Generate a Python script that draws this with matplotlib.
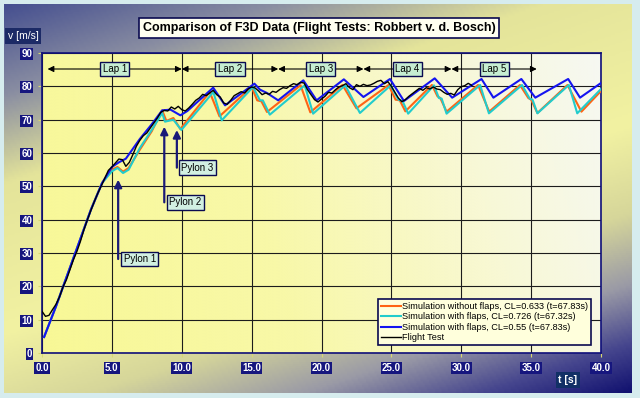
import numpy as np
import matplotlib.pyplot as plt
from matplotlib.colors import LinearSegmentedColormap

# ---- data ----
t_flight = [0.0, 0.25, 0.5, 0.75, 1.0, 1.25, 1.5, 1.75, 2.0, 2.25, 2.5, 2.75,
            3.0, 3.25, 3.5, 3.75, 4.0, 4.25, 4.5, 4.75, 5.0, 5.25, 5.5, 5.75,
            6.0, 6.25, 6.5, 6.75, 7.0, 7.25, 7.5, 7.75, 8.0, 8.25, 8.5, 8.75,
            9.0, 9.25, 9.5, 9.75, 10.0, 10.25, 10.5, 10.75, 11.0, 11.25, 11.5, 11.75,
            12.0, 12.25, 12.5, 12.75, 13.0, 13.25, 13.5, 13.75, 14.0, 14.25, 14.5, 14.75,
            15.0, 15.25, 15.5, 15.75, 16.0, 16.25, 16.5, 16.75, 17.0, 17.25, 17.5, 17.75,
            18.0, 18.25, 18.5, 18.75, 19.0, 19.25, 19.5, 19.75, 20.0, 20.25, 20.5, 20.75,
            21.0, 21.25, 21.5, 21.75, 22.0, 22.25, 22.5, 22.75, 23.0, 23.25, 23.5, 23.75,
            24.0, 24.25, 24.5, 24.75, 25.0, 25.25, 25.5, 25.75, 26.0, 26.25, 26.5, 26.75,
            27.0, 27.25, 27.5, 27.75, 28.0, 28.25, 28.5, 28.75, 29.0, 29.25, 29.5, 29.75,
            30.0, 30.25, 30.5, 30.75]
v_flight = [12.5, 11.0, 11.3, 13.0, 14.6, 16.8, 19.8, 22.0, 25.0, 28.0, 30.5, 33.5,
            37.0, 40.0, 42.8, 45.5, 48.0, 50.2, 52.5, 54.8, 55.8, 57.0, 58.2, 58.0,
            56.0, 57.2, 59.5, 62.0, 63.8, 65.2, 66.0, 67.5, 69.0, 70.5, 72.2, 72.8,
            72.6, 73.8, 73.2, 74.0, 73.0, 72.6, 73.5, 74.6, 75.8, 76.5, 77.6, 77.2,
            78.0, 78.8, 77.5, 76.8, 75.0, 74.6, 75.8, 77.2, 77.8, 78.4, 78.0, 79.2,
            79.8, 79.5, 78.6, 77.5, 78.0, 77.6, 78.5, 78.2, 79.0, 79.6, 79.4, 80.2,
            80.8, 80.5, 81.2, 81.0, 79.0, 77.5, 76.0, 75.3, 76.2, 77.0, 78.2, 78.0,
            79.0, 79.8, 80.2, 80.8, 79.6, 79.0, 80.5, 80.0, 80.6, 80.2, 80.4, 80.9,
            81.5, 81.8, 80.8, 81.4, 80.0, 78.2, 76.5, 75.4, 76.0, 77.0, 77.8, 78.6,
            79.4, 78.8, 79.6, 79.2, 79.8, 79.2, 79.0, 78.2, 77.6, 77.9, 77.4, 79.0,
            79.9, 80.2, 80.9, 80.3]

t_noflap = [0.15, 1.0, 2.4, 3.5, 4.3, 5.0, 5.4, 5.8, 6.2, 7.0, 7.85, 8.6, 8.9, 9.4, 9.9,
            12.0, 12.7, 15.0, 15.4, 15.7, 16.1, 18.5, 19.2, 21.5, 22.5, 24.8, 25.3, 25.6,
            26.0, 27.9, 28.3, 28.5, 28.95, 31.2, 32.0, 34.2, 34.8, 35.0, 35.45, 37.6, 38.6, 40.0]
v_noflap = [4.8, 14.0, 30.2, 43.0, 51.0, 55.0, 55.8, 54.4, 55.5, 61.0, 66.5, 72.8, 69.6, 70.5, 67.2,
            78.3, 71.0, 79.8, 75.8, 75.5, 72.3, 80.3, 72.2, 80.4, 73.4, 80.4, 76.0, 75.8,
            72.5, 80.4, 77.0, 76.5, 72.4, 80.4, 72.4, 80.4, 76.5, 76.0, 72.0, 80.4, 72.4, 78.6]

t_flap726 = [0.15, 1.0, 2.4, 3.5, 4.3, 5.0, 5.4, 5.8, 6.2, 7.0, 7.85, 8.6, 8.8, 9.4, 9.97,
             12.26, 12.86, 15.1, 15.6, 15.8, 16.3, 18.8, 19.4, 21.7, 22.75, 24.95, 25.5, 25.8,
             26.2, 28.05, 28.4, 28.6, 28.95, 31.35, 31.98, 34.35, 34.9, 35.1, 35.45, 37.7, 38.3, 40.0]
v_flap726 = [4.8, 14.0, 30.2, 43.0, 51.0, 54.5, 55.5, 54.0, 55.0, 61.5, 66.9, 72.0, 69.4, 70.0, 66.9,
             78.3, 69.8, 79.8, 75.8, 75.8, 71.5, 80.3, 71.8, 80.3, 72.0, 80.3, 76.0, 75.6,
             71.8, 80.3, 76.5, 76.3, 71.8, 80.4, 71.9, 80.4, 76.3, 76.0, 71.9, 80.4, 71.9, 79.2]

t_flap55 = [0.15, 1.0, 2.4, 3.5, 4.3, 5.0, 5.5, 6.0, 7.0, 7.85, 8.6, 9.2, 9.9, 10.4,
            12.25, 13.1, 15.2, 15.6, 16.1, 16.9, 18.7, 19.65, 21.6, 23.0, 24.9, 25.9,
            28.1, 29.35, 31.45, 32.3, 34.3, 35.3, 37.65, 38.5, 40.0]
v_flap55 = [4.8, 14.0, 30.2, 43.0, 51.0, 55.8, 57.2, 58.3, 64.2, 68.6, 72.8, 73.0, 71.3, 72.6,
            79.6, 74.3, 80.8, 79.0, 78.0, 75.8, 81.8, 75.8, 82.1, 76.8, 82.2, 75.6,
            82.4, 76.6, 82.2, 76.6, 82.2, 76.6, 82.2, 76.6, 81.0]

series_labels = ["Simulation without flaps, CL=0.633 (t=67.83s)",
                 "Simulation with flaps, CL=0.726 (t=67.32s)",
                 "Simulation with flaps, CL=0.55 (t=67.83s)",
                 "Flight Test"]

lap_names = ["Lap 1", "Lap 2", "Lap 3", "Lap 4", "Lap 5"]
lap_start = [0.4, 10.0, 16.9, 23.0, 29.3]
lap_end = [10.0, 16.9, 23.0, 29.3, 35.4]
lap_v = 85.2

pylon_names = ["Pylon 1", "Pylon 2", "Pylon 3"]
pylon_t = [5.45, 8.75, 9.65]
pylon_tip = [52.0, 67.9, 66.9]
pylon_base = [28.2, 45.2, 55.6]
pylon_text_t = [5.85, 9.1, 9.95]

x_ticks = [0, 5, 10, 15, 20, 25, 30, 35, 40]
y_ticks = [0, 10, 20, 30, 40, 50, 60, 70, 80, 90]

NARROW = ['Liberation Sans Narrow', 'Liberation Sans', 'DejaVu Sans']
SANS = ['Liberation Sans', 'DejaVu Sans']
NAVY = '#10107a'

W, H = 640, 398
fig = plt.figure(figsize=(6.4, 3.98), dpi=100)
fig.patch.set_facecolor('#d6ecee')

# panel gradient behind everything
bg = fig.add_axes([4 / W, 5 / H, 628 / W, 389 / H])
bg.set_axis_off()
yy, xx = np.mgrid[0:1:200j, 0:1:300j]
s = 0.35 * xx + 0.65 * yy
cmap_bg = LinearSegmentedColormap.from_list('bg', [
    (0.0, '#465090'), (0.15, '#8a8ea2'), (0.3, '#e4e49a'), (0.55, '#f2f2a2'),
    (0.7, '#d6d69a'), (0.82, '#9a9aa6'), (0.92, '#46468e'), (1.0, '#121270')])
bg.imshow(s, cmap=cmap_bg, aspect='auto', extent=[0, 1, 0, 1], origin='upper', vmin=0, vmax=1)

# plot area
ax = fig.add_axes([42 / W, 1 - 353 / H, 559 / W, 300 / H])
ax.set_xlim(0, 40)
ax.set_ylim(0, 90)
s2 = 0.85 * xx + 0.15 * (1 - yy)
cmap_pa = LinearSegmentedColormap.from_list('pa', [
    (0.0, '#f8f896'), (0.4, '#f8f8a8'), (0.75, '#f8f8d6'), (1.0, '#f6f8f2')])
ax.imshow(s2, cmap=cmap_pa, aspect='auto', extent=[0, 40, 0, 90], origin='upper',
          vmin=0, vmax=1, zorder=0)

ax.set_xticks(x_ticks)
ax.set_yticks(y_ticks)
ax.set_xticklabels([f"{v:.1f}" for v in x_ticks])
ax.set_yticklabels([str(v) for v in y_ticks])
ax.grid(True, color='#1c1c1c', lw=0.8, zorder=1)
for sp in ax.spines.values():
    sp.set_color(NAVY)
    sp.set_linewidth(1.2)
ax.tick_params(length=3, color='#d8d870', labelcolor='white', labelsize=7, pad=4)
for lbl in ax.get_xticklabels() + ax.get_yticklabels():
    lbl.set_family(NARROW)
    lbl.set_fontweight('bold')
    lbl.set_bbox(dict(boxstyle='square,pad=0.12', fc='#16167e', ec='none'))

ax.plot(t_noflap, v_noflap, color='#ff6414', lw=1.5, label=series_labels[0], zorder=3)
ax.plot(t_flap726, v_flap726, color='#22cccc', lw=1.5, label=series_labels[1], zorder=3)
ax.plot(t_flap55, v_flap55, color='#1414f0', lw=1.5, label=series_labels[2], zorder=4)
ax.plot(t_flight, v_flight, color='black', lw=1.0, label=series_labels[3], zorder=5)

# laps
for name, a, b in zip(lap_names, lap_start, lap_end):
    ax.annotate('', xy=(a, lap_v), xytext=(b, lap_v),
                arrowprops=dict(arrowstyle='<|-|>', color='black', lw=0.8,
                                mutation_scale=9, shrinkA=0, shrinkB=0), zorder=6)
    ax.text((a + b) / 2, lap_v, name, ha='center', va='center', fontsize=7, family=SANS,
            bbox=dict(boxstyle='square,pad=0.25', fc='#c6eed2', ec='#0a0a50', lw=1), zorder=7)

# pylons
for name, t, tip, base, tt in zip(pylon_names, pylon_t, pylon_tip, pylon_base, pylon_text_t):
    ax.annotate('', xy=(t, tip), xytext=(t, base),
                arrowprops=dict(arrowstyle='-|>', color='#1a1a78', lw=1.6,
                                mutation_scale=11, shrinkA=0, shrinkB=0), zorder=6)
    ax.text(tt, base, name, ha='left', va='center', fontsize=7, family=SANS,
            bbox=dict(boxstyle='square,pad=0.25', fc='#d2f0e2', ec='#0a0a50', lw=1), zorder=7)

leg = ax.legend(loc='lower right', bbox_to_anchor=(0.982, 0.027),
                prop={'family': NARROW, 'size': 6.6}, fancybox=False, framealpha=1,
                facecolor='#ffffdc', edgecolor='#0a0a50', handlelength=2.2,
                handletextpad=0.15, labelspacing=0.15, borderpad=0.3, borderaxespad=0)
leg.get_frame().set_linewidth(1.2)
leg.set_zorder(8)

fig.text(319 / W, 1 - 28 / H, "Comparison of F3D Data (Flight Tests: Robbert v. d. Bosch)",
         ha='center', va='center', fontsize=9, fontweight='bold', family=SANS,
         bbox=dict(boxstyle='square,pad=0.3', fc='#fffff0', ec='#0a0a50', lw=1.2))
fig.text(23 / W, 1 - 36 / H, "v [m/s]", ha='center', va='center', fontsize=7.5,
         color='white', family=SANS,
         bbox=dict(boxstyle='square,pad=0.25', fc='#1c2a66', ec='none'))
fig.text(568 / W, 1 - 380 / H, "t [s]", ha='center', va='center', fontsize=7.5,
         color='white', fontweight='bold', family=SANS,
         bbox=dict(boxstyle='square,pad=0.25', fc='#123066', ec='none'))

fig.savefig('out.png', dpi=100, facecolor=fig.get_facecolor())
